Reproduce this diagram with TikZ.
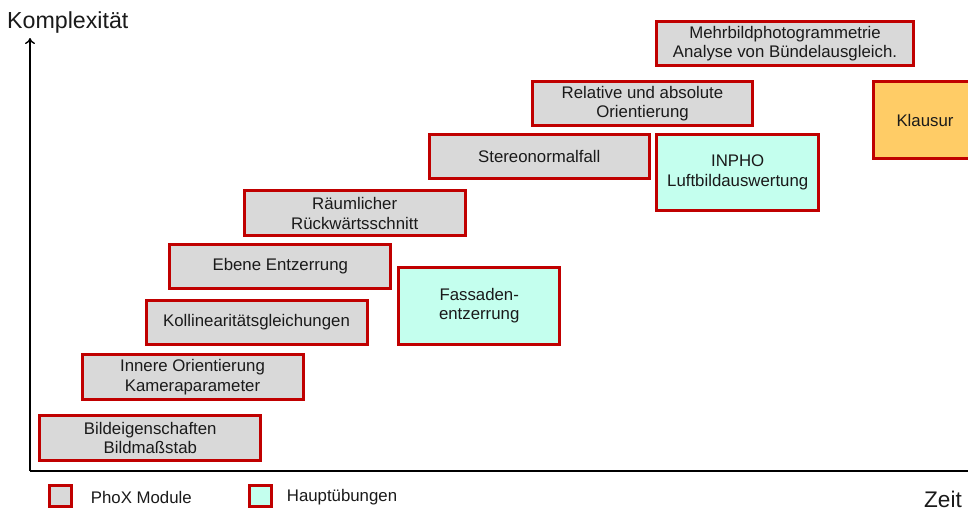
\documentclass[tikz,border=0pt]{standalone}
\usepackage{fontspec}
\setmainfont{Liberation Sans}
\usetikzlibrary{arrows.meta}
\definecolor{boxred}{HTML}{C00000}
\definecolor{boxgray}{HTML}{D9D9D9}
\definecolor{boxcyan}{HTML}{C4FFEE}
\definecolor{boxorange}{HTML}{FFCC66}
\definecolor{txt}{HTML}{1A1A1A}
\tikzset{
  modbox/.style={draw=boxred, line width=3pt, fill=boxgray, rectangle, inner sep=0pt,
    align=center, text=txt, font=\fontsize{16.8}{19.5}\selectfont},
  uebbox/.style={modbox, fill=boxcyan},
  exambox/.style={modbox, fill=boxorange},
  legbox/.style={draw=boxred, line width=3pt, rectangle, inner sep=0pt, minimum width=22pt, minimum height=21pt},
  legtext/.style={anchor=west, inner sep=0pt, text=txt, font=\fontsize{16.8}{19.5}\selectfont},
  axislabel/.style={inner sep=0pt, text=txt, font=\fontsize{22.6}{24}\selectfont},
  axisline/.style={black, line width=1.4pt}
}
\begin{document}
\begin{tikzpicture}[x=1pt,y=-1pt]
\useasboundingbox[fill=white] (0,0) rectangle (968,512);
% axes
\coordinate (origin) at (30,471);
\coordinate (ytop) at (30,38);
\coordinate (xend) at (970,471);
\draw[axisline, -{To[length=6pt,width=10pt]}] (origin) -- (ytop);
\draw[axisline] (origin) -- (xend);
\node[axislabel, anchor=base west, font=\fontsize{23.2}{25}\selectfont] (ylab) at (7,28.5) {Komplexität};
\node[axislabel, anchor=base east] (xlab) at (962,507) {Zeit};
% module boxes
\node[modbox, minimum width=221pt, minimum height=45pt] (b1) at (150.3,438) {Bildeigenschaften\\Bildmaßstab};
\node[modbox, minimum width=221pt, minimum height=45pt] (b2) at (192.5,377) {Innere Orientierung\\Kameraparameter};
\node[modbox, minimum width=221pt, minimum height=44pt] (b3) at (256.5,322) {Kollinearitätsgleichungen};
\node[modbox, minimum width=221pt, minimum height=44pt] (b4) at (280.3,266.3) {Ebene Entzerrung};
\node[modbox, minimum width=221pt, minimum height=45pt] (b5) at (354.7,213.3) {Räumlicher\\Rückwärtsschnitt};
\node[modbox, minimum width=220pt, minimum height=44pt] (b6) at (539.3,156.3) {Stereonormalfall};
\node[modbox, minimum width=220pt, minimum height=44pt] (b7) at (642.5,103.8) {Relative und absolute\\Orientierung};
\node[modbox, minimum width=257pt, minimum height=44pt] (b8) at (785,43.5) {Mehrbildphotogrammetrie\\Analyse von Bündelausgleich.};
% exercise boxes
\node[uebbox, minimum width=161pt, minimum height=77pt] (u1) at (479.2,305.7) {Fassaden-\\entzerrung};
\node[uebbox, minimum width=162pt, minimum height=76pt] (u2) at (737.7,172.5) {INPHO\\Luftbildauswertung};
% exam
\node[exambox, minimum width=103pt, minimum height=77pt] (ex) at (925,120) {Klausur};
% legend
\node[legbox, fill=boxgray] (lg1) at (60.8,496.3) {};
\node[legtext] (lt1) at (90.7,497) {PhoX Module};
\node[legbox, fill=boxcyan] (lg2) at (260.3,496.3) {};
\node[legtext] (lt2) at (286.7,497) {Hauptübungen};
\end{tikzpicture}
\end{document}
